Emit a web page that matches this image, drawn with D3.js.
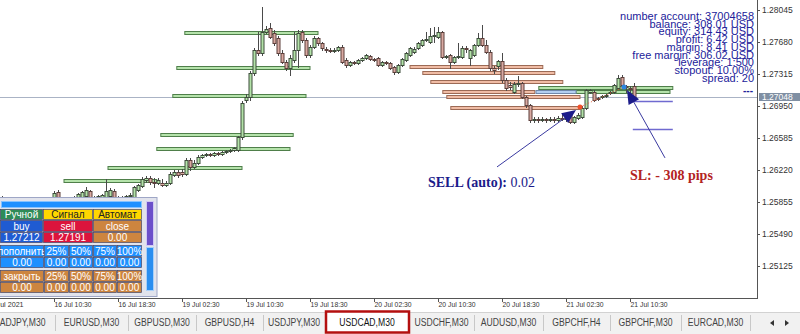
<!DOCTYPE html>
<html>
<head>
<meta charset="utf-8">
<script src="https://cdn.jsdelivr.net/npm/d3@7"></script>
<style>
  body { margin: 0; background: #fff; overflow: hidden; }
</style>
</head>
<body>
<div id="container"></div>
<script>
// USDCAD M30 bars (bar 13 = 16 Jul 10:30)
const open = [
  1.25879, 1.25902, 1.25891, 1.25868, 1.25879, 1.25856, 1.25868, 1.25845, 1.25868, 1.25879,
  1.25856, 1.25868, 1.25891, 1.25891, 1.25970, 1.25891, 1.25879, 1.25868, 1.25891, 1.25902,
  1.25913, 1.25925, 1.25982, 1.25913, 1.25913, 1.25902, 1.25913, 1.25925, 1.25982, 1.25913,
  1.25902, 1.25913, 1.25925, 1.25913, 1.25993, 1.26039, 1.26107, 1.26130, 1.26084, 1.26073,
  1.26073, 1.26050, 1.26073, 1.26164, 1.26198, 1.26198, 1.26175, 1.26335, 1.26255, 1.26301,
  1.26369, 1.26392, 1.26403, 1.26392, 1.26415, 1.26403, 1.26426, 1.26438, 1.26449, 1.26449,
  1.26597, 1.27019, 1.27053, 1.27327, 1.27589, 1.27555, 1.27794, 1.27840, 1.27783, 1.27726,
  1.27555, 1.27452, 1.27384, 1.27475, 1.27589, 1.27794, 1.27703, 1.27532, 1.27623, 1.27726,
  1.27669, 1.27600, 1.27589, 1.27578, 1.27589, 1.27623, 1.27475, 1.27418, 1.27452, 1.27441,
  1.27475, 1.27498, 1.27521, 1.27486, 1.27498, 1.27418, 1.27452, 1.27441, 1.27395, 1.27338,
  1.27418, 1.27475, 1.27532, 1.27566, 1.27612, 1.27646, 1.27703, 1.27680, 1.27749, 1.27737,
  1.27794, 1.27509, 1.27532, 1.27452, 1.27509, 1.27509, 1.27612, 1.27498, 1.27532, 1.27646,
  1.27726, 1.27646, 1.27566, 1.27384, 1.27407, 1.27464, 1.27247, 1.27190, 1.27110, 1.27201,
  1.27213, 1.27053, 1.26962, 1.26791, 1.26802, 1.26791, 1.26802, 1.26791, 1.26802, 1.26791,
  1.26814, 1.26802, 1.26848, 1.26768, 1.26814, 1.26825, 1.26928, 1.27110, 1.27110, 1.27042,
  1.27053, 1.27065, 1.27099, 1.27110, 1.27156, 1.27281, 1.27179, 1.27156, 1.27179
];
const high = [
  1.25925, 1.25913, 1.25902, 1.25902, 1.25891, 1.25879, 1.25879, 1.25879, 1.25891, 1.25891,
  1.25891, 1.25902, 1.25913, 1.25982, 1.25993, 1.25902, 1.25891, 1.25902, 1.25925, 1.25959,
  1.25982, 1.26027, 1.25993, 1.25925, 1.25936, 1.25947, 1.26118, 1.26016, 1.26004, 1.25925,
  1.25925, 1.25936, 1.25959, 1.26039, 1.26061, 1.26141, 1.26153, 1.26153, 1.26130, 1.26130,
  1.26118, 1.26096, 1.26198, 1.26221, 1.26221, 1.26233, 1.26358, 1.26358, 1.26335, 1.26392,
  1.26403, 1.26415, 1.26415, 1.26426, 1.26426, 1.26438, 1.26449, 1.26460, 1.26483, 1.26609,
  1.27008, 1.27088, 1.27350, 1.27612, 1.27794, 1.28079, 1.27863, 1.27897, 1.27817, 1.27749,
  1.27589, 1.27475, 1.27532, 1.27794, 1.27817, 1.27817, 1.27726, 1.27646, 1.27749, 1.27737,
  1.27680, 1.27623, 1.27612, 1.27612, 1.27635, 1.27646, 1.27498, 1.27464, 1.27464, 1.27486,
  1.27509, 1.27543, 1.27532, 1.27498, 1.27509, 1.27464, 1.27464, 1.27452, 1.27407, 1.27429,
  1.27498, 1.27566, 1.27623, 1.27623, 1.27680, 1.27714, 1.27794, 1.27840, 1.27851, 1.27851,
  1.27806, 1.27532, 1.27543, 1.27521, 1.27669, 1.27635, 1.27635, 1.27600, 1.27657, 1.27783,
  1.27874, 1.27703, 1.27589, 1.27407, 1.27475, 1.27555, 1.27270, 1.27224, 1.27224, 1.27293,
  1.27224, 1.27065, 1.26973, 1.26825, 1.26825, 1.26825, 1.26814, 1.26825, 1.26825, 1.26837,
  1.26871, 1.26837, 1.26859, 1.26837, 1.26871, 1.26951, 1.27145, 1.27145, 1.27133, 1.27053,
  1.27076, 1.27088, 1.27122, 1.27201, 1.27304, 1.27304, 1.27190, 1.27179, 1.27213
];
const low = [
  1.25856, 1.25868, 1.25845, 1.25856, 1.25833, 1.25845, 1.25822, 1.25833, 1.25856, 1.25845,
  1.25845, 1.25856, 1.25879, 1.25879, 1.25879, 1.25856, 1.25856, 1.25856, 1.25879, 1.25891,
  1.25902, 1.25913, 1.25891, 1.25891, 1.25902, 1.25891, 1.25879, 1.25913, 1.25891, 1.25891,
  1.25879, 1.25902, 1.25913, 1.25902, 1.25982, 1.26027, 1.26084, 1.26061, 1.26027, 1.26061,
  1.26039, 1.26039, 1.26061, 1.26153, 1.26141, 1.26153, 1.26164, 1.26221, 1.26244, 1.26289,
  1.26358, 1.26381, 1.26381, 1.26381, 1.26392, 1.26392, 1.26415, 1.26426, 1.26438, 1.26438,
  1.26574, 1.26996, 1.27019, 1.27304, 1.27532, 1.27532, 1.27783, 1.27726, 1.27646, 1.27532,
  1.27441, 1.27361, 1.27304, 1.27452, 1.27395, 1.27680, 1.27509, 1.27509, 1.27612, 1.27646,
  1.27589, 1.27566, 1.27566, 1.27566, 1.27578, 1.27441, 1.27395, 1.27407, 1.27429, 1.27429,
  1.27464, 1.27486, 1.27475, 1.27464, 1.27407, 1.27407, 1.27429, 1.27372, 1.27315, 1.27327,
  1.27407, 1.27464, 1.27521, 1.27555, 1.27600, 1.27635, 1.27692, 1.27669, 1.27680, 1.27726,
  1.27498, 1.27498, 1.27384, 1.27441, 1.27498, 1.27498, 1.27566, 1.27418, 1.27521, 1.27635,
  1.27635, 1.27555, 1.27361, 1.27327, 1.27372, 1.27224, 1.27133, 1.27145, 1.27099, 1.27179,
  1.27042, 1.26939, 1.26768, 1.26768, 1.26768, 1.26780, 1.26768, 1.26780, 1.26768, 1.26780,
  1.26791, 1.26780, 1.26757, 1.26757, 1.26802, 1.26814, 1.26916, 1.27099, 1.27008, 1.27019,
  1.27042, 1.27053, 1.27088, 1.27099, 1.27145, 1.27167, 1.27110, 1.27088, 1.27042
];
const close = [
  1.25902, 1.25891, 1.25868, 1.25879, 1.25856, 1.25868, 1.25845, 1.25868, 1.25879, 1.25856,
  1.25868, 1.25891, 1.25902, 1.25959, 1.25891, 1.25879, 1.25868, 1.25891, 1.25913, 1.25947,
  1.25970, 1.25993, 1.25913, 1.25902, 1.25925, 1.25936, 1.25982, 1.25993, 1.25913, 1.25902,
  1.25913, 1.25925, 1.25936, 1.26027, 1.26050, 1.26118, 1.26130, 1.26084, 1.26073, 1.26107,
  1.26050, 1.26073, 1.26175, 1.26198, 1.26164, 1.26175, 1.26335, 1.26255, 1.26301, 1.26369,
  1.26392, 1.26403, 1.26392, 1.26415, 1.26403, 1.26426, 1.26438, 1.26449, 1.26472, 1.26597,
  1.26985, 1.27053, 1.27327, 1.27589, 1.27555, 1.27794, 1.27828, 1.27737, 1.27669, 1.27555,
  1.27452, 1.27384, 1.27498, 1.27589, 1.27783, 1.27703, 1.27532, 1.27623, 1.27726, 1.27669,
  1.27612, 1.27589, 1.27578, 1.27589, 1.27623, 1.27452, 1.27418, 1.27452, 1.27441, 1.27475,
  1.27498, 1.27532, 1.27486, 1.27475, 1.27418, 1.27452, 1.27441, 1.27384, 1.27338, 1.27418,
  1.27486, 1.27555, 1.27612, 1.27600, 1.27669, 1.27703, 1.27714, 1.27749, 1.27760, 1.27794,
  1.27509, 1.27521, 1.27452, 1.27509, 1.27521, 1.27612, 1.27600, 1.27589, 1.27646, 1.27726,
  1.27646, 1.27566, 1.27384, 1.27361, 1.27464, 1.27247, 1.27156, 1.27167, 1.27201, 1.27213,
  1.27053, 1.26962, 1.26791, 1.26802, 1.26791, 1.26802, 1.26791, 1.26802, 1.26791, 1.26814,
  1.26802, 1.26814, 1.26768, 1.26825, 1.26848, 1.26928, 1.27133, 1.27133, 1.27019, 1.27030,
  1.27065, 1.27076, 1.27110, 1.27190, 1.27270, 1.27190, 1.27167, 1.27145, 1.27048
];

const bid = 1.27048;

// price axis ticks
const priceTicks = [1.28045, 1.27680, 1.27315, 1.26950, 1.26585, 1.26220, 1.25855, 1.25490, 1.25125];

// time axis: bar index -> label
const timeTickIdx = [-4, 13, 29, 45, 61, 77, 93, 109, 125, 141, 157];
const timeTickLabels = ["16 Jul 2021", "16 Jul 10:30", "16 Jul 18:30", "19 Jul 02:30", "19 Jul 10:30",
  "19 Jul 18:30", "20 Jul 02:30", "20 Jul 10:30", "20 Jul 18:30", "21 Jul 02:30", "21 Jul 10:30"];

// level boxes: price, from bar, to bar
const buyZonePrice = [1.27788, 1.27384, 1.27059, 1.26614, 1.26455, 1.26244, 1.26096, 1.27156, 1.27104];
const buyZoneFrom  = [45.8, 43.8, 42.8, 39.8, 38.8, 26.6, 15.6, 134.3, 143.6];
const buyZoneTo    = [79.1, 77.1, 76.1, 72.9, 72.1, 60.1, 38.8, 167.8, 167.1];
const sellZonePrice = [1.27390, 1.27327, 1.27224, 1.27104, 1.27053, 1.26922];
const sellZoneFrom  = [102.1, 105.3, 107.3, 110.3, 111.3, 112.3];
const sellZoneTo    = [135.3, 138.3, 140.3, 133.3, 144.6, 144.6];
const pendingZone = {price: 1.27104, from: 133.6, to: 143.6};

// stop / target lines
const slLevels = [1.27008, 1.26688];
const slFrom = 157.8, slTo = 167.8;

// open trade
const sellOpen = {i: 144.6, price: 1.26939};
const sellNow = {i: 155.6, price: 1.27167};

const accountLines = ["number account: 37004658", "balance: 308.01 USD", "equity: 314.43 USD",
  "profit: 6.42 USD", "margin: 8.41 USD", "free margin: 306.02 USD", "leverage: 1:500",
  "stopout: 10.00%", "spread: 20"];

const tabNames = ["CADJPY,M30", "EURUSD,M30", "GBPUSD,M30", "GBPUSD,H4", "USDJPY,M30", "USDCAD,M30",
  "USDCHF,M30", "AUDUSD,M30", "GBPCHF,H4", "GBPCHF,M30", "EURCAD,M30"];
const activeTab = "USDCAD,M30";

const W = 800, H = 334, plotR = 757, plotB = 298;

const x = d3.scaleLinear().domain([0, 157]).range([1.6, 629.6]);
const y = d3.scaleLinear().domain([1.28045, 1.25125]).range([10, 266]);

const svg = d3.select("#container").append("svg")
  .attr("width", W).attr("height", H)
  .style("font-family", "'Liberation Sans', Arial, sans-serif");

svg.append("rect").attr("width", W).attr("height", H).attr("fill", "#fff");

svg.append("clipPath").attr("id", "plotclip")
  .append("rect").attr("x", 0).attr("y", 0).attr("width", plotR).attr("height", plotB);

const plot = svg.append("g").attr("clip-path", "url(#plotclip)");

// bid line
plot.append("line")
  .attr("x1", 0).attr("x2", plotR)
  .attr("y1", Math.round(y(bid)) + 0.5).attr("y2", Math.round(y(bid)) + 0.5)
  .attr("stroke", "#aab3c5").attr("stroke-width", 1);

// zones
const zoneRect = (g, p, a, b, fill, stroke) => g.append("rect")
  .attr("x", x(a)).attr("width", x(b) - x(a))
  .attr("y", Math.round(y(p)) - 1.5).attr("height", 3)
  .attr("fill", fill).attr("stroke", stroke).attr("stroke-width", 1);

const zones = plot.append("g");
buyZonePrice.forEach((p, k) => zoneRect(zones, p, buyZoneFrom[k], buyZoneTo[k], "#b5e3ab", "#4f7f4a"));
sellZonePrice.forEach((p, k) => zoneRect(zones, p, sellZoneFrom[k], sellZoneTo[k], "#f0bca5", "#9c6a55"));
zoneRect(zones, pendingZone.price, pendingZone.from, pendingZone.to, "#b3cff0", "#6f88aa");

// candles
const bars = close.map((c, i) => ({i, o: open[i], h: high[i], l: low[i], c}));
const cg = plot.append("g");
cg.selectAll("line").data(bars).join("line")
  .attr("x1", d => Math.round(x(d.i)) + 0.5).attr("x2", d => Math.round(x(d.i)) + 0.5)
  .attr("y1", d => Math.round(y(d.h))).attr("y2", d => Math.round(y(d.l)) + 1)
  .attr("stroke", "#4a4a4a").attr("stroke-width", 1);
cg.selectAll("rect").data(bars).join("rect")
  .attr("x", d => Math.round(x(d.i)) - 1)
  .attr("width", 3)
  .attr("y", d => Math.round(Math.min(y(d.o), y(d.c))) + 0.5)
  .attr("height", d => Math.max(Math.round(Math.abs(y(d.o) - y(d.c))), 1))
  .attr("fill", d => d.c >= d.o ? "#b3e2a8" : "#d9aaa2")
  .attr("stroke", d => d.c >= d.o ? "#3d4d3b" : "#5c3f3b")
  .attr("stroke-width", 1);

// SL / TP lines
plot.selectAll("line.sl").data(slLevels).join("line").attr("class", "sl")
  .attr("x1", x(slFrom)).attr("x2", x(slTo))
  .attr("y1", d => Math.round(y(d)) + 0.5).attr("y2", d => Math.round(y(d)) + 0.5)
  .attr("stroke", "#6f6ad0").attr("stroke-width", 1.5);

// trade line + markers
plot.append("line")
  .attr("x1", x(sellOpen.i)).attr("y1", y(sellOpen.price))
  .attr("x2", x(sellNow.i)).attr("y2", y(sellNow.price))
  .attr("stroke", "#e2603a").attr("stroke-width", 1).attr("stroke-dasharray", "1,2");
plot.append("circle").attr("cx", x(sellOpen.i)).attr("cy", y(sellOpen.price)).attr("r", 2.5).attr("fill", "#f0502a");
plot.append("circle").attr("cx", x(sellNow.i)).attr("cy", y(sellNow.price)).attr("r", 2.5).attr("fill", "#2f86e0");

// annotation arrows
const navy = "#1b1b8a";
function arrow(i1, p1, i2, p2) {
  const x1 = x(i1), y1 = y(p1), x2 = x(i2), y2 = y(p2);
  const a = Math.atan2(y2 - y1, x2 - x1), L = 14, w = 6;
  const bx = x2 - L * Math.cos(a), by = y2 - L * Math.sin(a);
  plot.append("line").attr("x1", x1).attr("y1", y1).attr("x2", bx).attr("y2", by)
    .attr("stroke", "#3a3aa0").attr("stroke-width", 1);
  plot.append("polygon")
    .attr("points", [[x2, y2], [bx + w * Math.sin(a), by - w * Math.cos(a)], [bx - w * Math.sin(a), by + w * Math.cos(a)]].join(" "))
    .attr("fill", navy);
}
arrow(123.85, 1.26255, 143.6, 1.26905);
arrow(165.85, 1.26358, 156.35, 1.27133);

const sellText = plot.append("text")
  .attr("x", x(106.6)).attr("y", y(1.26027))
  .attr("font-family", "'Liberation Serif', 'Times New Roman', serif")
  .attr("font-size", 14).attr("fill", navy);
sellText.append("tspan").attr("font-weight", "bold").text("SELL (auto):");
sellText.append("tspan").text(" 0.02");

plot.append("text")
  .attr("x", x(157.1)).attr("y", y(1.26107))
  .attr("font-family", "'Liberation Serif', 'Times New Roman', serif")
  .attr("font-size", 14).attr("font-weight", "bold").attr("fill", "#b3231f")
  .text("SL: - 308 pips");

// account info
plot.append("g").selectAll("text").data(accountLines).join("text")
  .attr("x", 754).attr("y", (d, k) => 20 + k * 7.7)
  .attr("text-anchor", "end").attr("font-size", 11).attr("fill", "#22229a")
  .text(d => d);
plot.append("text").attr("x", 753).attr("y", 94).attr("text-anchor", "end")
  .attr("font-size", 10).attr("font-weight", "bold").attr("fill", "#22229a").text("---");

// frame / axes
svg.append("line").attr("x1", plotR + 0.5).attr("x2", plotR + 0.5).attr("y1", 0).attr("y2", plotB + 1)
  .attr("stroke", "#555");
svg.append("line").attr("x1", 0).attr("x2", plotR + 1).attr("y1", plotB + 0.5).attr("y2", plotB + 0.5)
  .attr("stroke", "#555");

const pa = svg.append("g");
pa.selectAll("line").data(priceTicks).join("line")
  .attr("x1", plotR).attr("x2", plotR + 3)
  .attr("y1", d => Math.round(y(d)) + 0.5).attr("y2", d => Math.round(y(d)) + 0.5)
  .attr("stroke", "#555");
pa.selectAll("text").data(priceTicks).join("text")
  .attr("x", 762).attr("y", d => y(d) + 3)
  .attr("font-size", 8.5).attr("fill", "#333")
  .text(d => d.toFixed(5));
pa.append("rect").attr("x", 759).attr("y", Math.round(y(bid)) - 4).attr("width", 41).attr("height", 8)
  .attr("fill", "#7f8fa3");
pa.append("text").attr("x", 762).attr("y", Math.round(y(bid)) + 3)
  .attr("font-size", 8.5).attr("fill", "#fff").text(bid.toFixed(5));

const ta = svg.append("g");
ta.selectAll("line").data(timeTickIdx).join("line")
  .attr("x1", d => Math.round(x(d)) + 0.5).attr("x2", d => Math.round(x(d)) + 0.5)
  .attr("y1", plotB).attr("y2", plotB + 4).attr("stroke", "#555");
ta.selectAll("text").data(timeTickIdx).join("text")
  .attr("x", d => x(d) + 1).attr("y", plotB + 9)
  .attr("font-size", 8).attr("fill", "#333")
  .attr("textLength", 37).attr("lengthAdjust", "spacingAndGlyphs")
  .text((d, k) => timeTickLabels[k]);

// trade panel (bottom left)
const panel = svg.append("g");
panel.append("rect").attr("x", -1).attr("y", 197.5).attr("width", 158).attr("height", 99)
  .attr("fill", "#e1e3ec").attr("stroke", "#9ea6c6");
panel.append("rect").attr("x", 1.5).attr("y", 201.5).attr("width", 140).attr("height", 6)
  .attr("fill", "#1e90ff").attr("stroke", "#86c3ff");
panel.append("rect").attr("x", 146.5).attr("y", 201.5).attr("width", 7).attr("height", 44)
  .attr("fill", "#6b4fca").attr("stroke", "#d0c8f4");
panel.append("rect").attr("x", 146.5).attr("y", 247.5).attr("width", 7).attr("height", 43)
  .attr("fill", "#2a8ef0").attr("stroke", "#a8cff8");

const col3 = [[0, 43], [43, 50], [93, 49]];
const col5 = [[0, 44], [44, 25], [69, 24], [93, 24], [117, 25]];
const panelRows = [
  {y: 209, h: 11, cols: col3, cells: [["Ручной", "#2e8b57", "#fff"], ["Сигнал", "#ffd700", "#222"], ["Автомат", "#ffd700", "#222"]]},
  {y: 220, h: 12, cols: col3, cells: [["buy", "#1f5bd2", "#fff"], ["sell", "#dc143c", "#fff"], ["close", "#cd853f", "#fff"]]},
  {y: 232, h: 11, cols: col3, cells: [["1.27212", "#1f5bd2", "#fff"], ["1.27191", "#dc143c", "#fff"], ["0.00", "#cd853f", "#fff"]]},
  {y: 245, h: 12, cols: col5, cells: [["пополнить", "#1e90ff", "#fff"], ["25%", "#1e90ff", "#fff"], ["50%", "#1e90ff", "#fff"], ["75%", "#1e90ff", "#fff"], ["100%", "#1e90ff", "#fff"]]},
  {y: 257, h: 11, cols: col5, cells: [["0.00", "#1e90ff", "#fff"], ["0.00", "#1e90ff", "#fff"], ["0.00", "#1e90ff", "#fff"], ["0.00", "#1e90ff", "#fff"], ["0.00", "#1e90ff", "#fff"]]},
  {y: 270, h: 12, cols: col5, cells: [["закрыть", "#cd853f", "#fff"], ["25%", "#cd853f", "#fff"], ["50%", "#cd853f", "#fff"], ["75%", "#cd853f", "#fff"], ["100%", "#cd853f", "#fff"]]},
  {y: 282, h: 11, cols: col5, cells: [["0.00", "#cd853f", "#fff"], ["0.00", "#cd853f", "#fff"], ["0.00", "#cd853f", "#fff"], ["0.00", "#cd853f", "#fff"], ["0.00", "#cd853f", "#fff"]]}
];
panel.append("clipPath").attr("id", "panelclip")
  .append("rect").attr("x", 0).attr("y", 0).attr("width", 143).attr("height", H);
const cells = panel.append("g").attr("clip-path", "url(#panelclip)");
panelRows.forEach(r => {
  r.cells.forEach((c, k) => {
    const [cx, cw] = r.cols[k];
    cells.append("rect").attr("x", cx + 0.5).attr("y", r.y + 0.5).attr("width", cw - 1).attr("height", r.h - 1)
      .attr("fill", c[1]).attr("stroke", "#474766").attr("stroke-width", 0.7);
    cells.append("text").attr("x", cx + cw / 2).attr("y", r.y + r.h / 2 + 3.6)
      .attr("text-anchor", "middle").attr("font-size", 10).attr("fill", c[2]).text(c[0]);
  });
});

// symbol tabs
const tabEdges = [-10, 55, 128, 196, 263, 325, 409, 474, 543, 610, 681, 750];
const tabs = svg.append("g");
tabs.append("rect").attr("x", 0).attr("y", 312).attr("width", W).attr("height", 22).attr("fill", "#f1f1f1");
tabs.append("line").attr("x1", 0).attr("x2", W).attr("y1", 312.5).attr("y2", 312.5).attr("stroke", "#d2d2d2");
tabs.selectAll("line.sep").data(tabEdges.slice(1)).join("line").attr("class", "sep")
  .attr("x1", d => d + 0.5).attr("x2", d => d + 0.5).attr("y1", 315).attr("y2", 331)
  .attr("stroke", "#c8c8c8");
const ai = tabNames.indexOf(activeTab);
tabs.append("rect").attr("x", tabEdges[ai] + 1).attr("y", 311.5).attr("width", tabEdges[ai + 1] - tabEdges[ai] - 1).attr("height", 21)
  .attr("fill", "#fff").attr("stroke", "#b40f0f").attr("stroke-width", 2.5);
tabs.selectAll("text").data(tabNames).join("text")
  .attr("x", (d, k) => (tabEdges[k] + tabEdges[k + 1]) / 2 + (k === 0 ? -3 : 0))
  .attr("y", 326).attr("text-anchor", "middle")
  .attr("font-size", 10).attr("fill", (d, k) => k === ai ? "#111" : "#444")
  .text(d => d)
  .each(function () {
    const w = this.getComputedTextLength();
    d3.select(this).attr("textLength", w * 0.86).attr("lengthAdjust", "spacingAndGlyphs");
  });
tabs.append("polygon").attr("points", "770,323 774,320 774,326").attr("fill", "#333");
tabs.append("polygon").attr("points", "789,323 785,320 785,326").attr("fill", "#333");
</script>
</body>
</html>
